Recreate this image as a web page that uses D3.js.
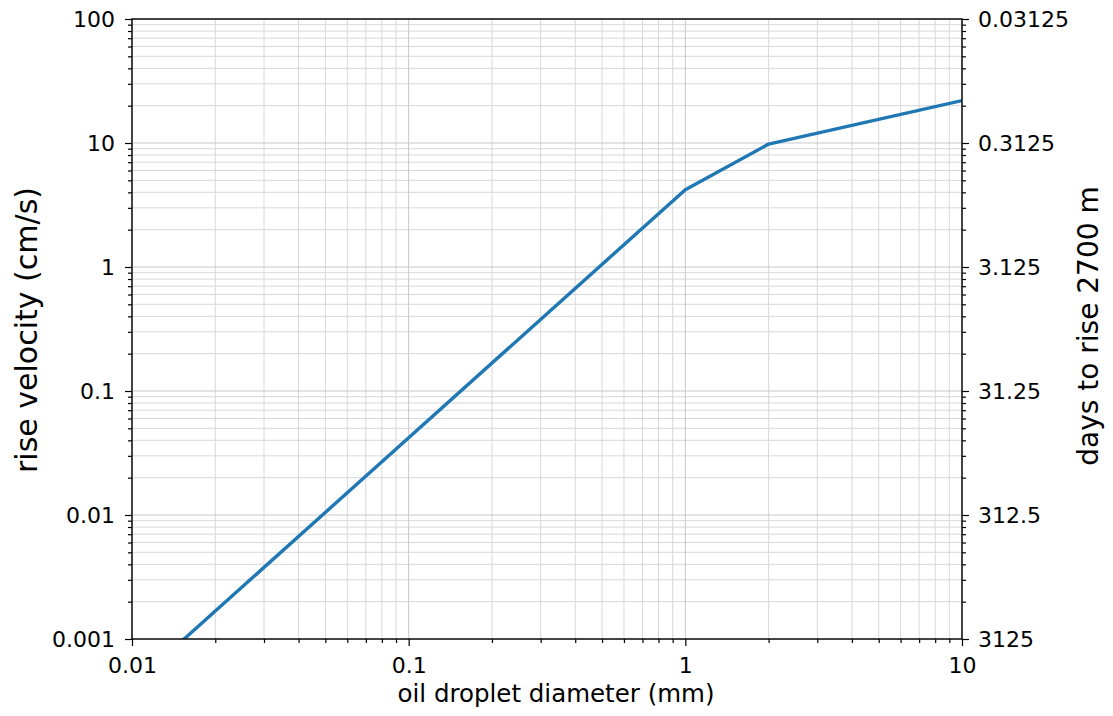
<!DOCTYPE html>
<html><head><meta charset="utf-8">
<script src="https://cdn.jsdelivr.net/npm/d3@7"></script>
<style>
html,body{margin:0;padding:0;background:#fff;}
svg{display:block;font-family:"DejaVu Sans",sans-serif;}
</style></head>
<body><svg id="c" width="1113" height="716"></svg>
<script>
// data
const diameters = [0.01, 0.1, 1, 2, 10];          // mm
const velocities = [0.00042, 0.042, 4.2, 9.8, 22]; // cm/s
const xTickLabels = ["0.01", "0.1", "1", "10"];
const yTickLabels = ["0.001", "0.01", "0.1", "1", "10", "100"];
const rightTickLabels = ["3125", "312.5", "31.25", "3.125", "0.3125", "0.03125"];
const xLabel = "oil droplet diameter (mm)";
const yLabel = "rise velocity (cm/s)";
const y2Label = "days to rise 2700 m";

const L = 132, R = 962, T = 19, B = 639;
const svg = d3.select("#c");
const x = d3.scaleLog().domain([0.01, 10]).range([L, R]);
const y = d3.scaleLog().domain([0.001, 100]).range([B, T]);
const y2 = d3.scaleLog().domain([3125, 0.03125]).range([B, T]);

const xMajor = [0.01, 0.1, 1, 10];
const yMajor = [0.001, 0.01, 0.1, 1, 10, 100];
const minorOf = (majors) => {
  const out = [];
  majors.slice(0, -1).forEach(m => { for (let k = 2; k <= 9; k++) out.push(m * k); });
  return out;
};
const xMinor = minorOf(xMajor), yMinor = minorOf(yMajor);

// grid
const g = svg.append("g");
g.selectAll(".gxm").data(xMinor).join("line")
  .attr("x1", d => x(d)).attr("x2", d => x(d)).attr("y1", T).attr("y2", B)
  .attr("stroke", "#d8d8d8").attr("stroke-width", 1);
g.selectAll(".gym").data(yMinor).join("line")
  .attr("y1", d => y(d)).attr("y2", d => y(d)).attr("x1", L).attr("x2", R)
  .attr("stroke", "#d8d8d8").attr("stroke-width", 1);
g.selectAll(".gxM").data(xMajor).join("line")
  .attr("x1", d => x(d)).attr("x2", d => x(d)).attr("y1", T).attr("y2", B)
  .attr("stroke", "#c8c8c8").attr("stroke-width", 1);
g.selectAll(".gyM").data(yMajor).join("line")
  .attr("y1", d => y(d)).attr("y2", d => y(d)).attr("x1", L).attr("x2", R)
  .attr("stroke", "#c8c8c8").attr("stroke-width", 1);

// line
svg.append("clipPath").attr("id", "clip").append("rect")
  .attr("x", L).attr("y", T).attr("width", R - L).attr("height", B - T);
const pts = diameters.map((d, i) => [d, velocities[i]]);
svg.append("path").datum(pts)
  .attr("clip-path", "url(#clip)")
  .attr("d", d3.line().x(d => x(d[0])).y(d => y(d[1])))
  .attr("fill", "none").attr("stroke", "#1f77b4").attr("stroke-width", 3.4)
  .attr("stroke-linejoin", "round");

// axes
function styleAxis(sel) {
  sel.selectAll("path").remove();
  sel.selectAll("line").attr("stroke", "#000").attr("stroke-width", 1.2);
  sel.selectAll("text").attr("fill", "#000").style("font-size", "22px").style("font-family", "DejaVu Sans");
}
const fmt = (labels, majors) => d => { const i = majors.findIndex(m => Math.abs(m - d) / m < 1e-6); return i >= 0 ? labels[i] : ""; };

svg.append("g").attr("transform", `translate(0,${B})`)
  .call(d3.axisBottom(x).tickValues(xMinor).tickSize(4).tickFormat(""))
  .call(styleAxis);
svg.append("g").attr("transform", `translate(0,${B})`)
  .call(d3.axisBottom(x).tickValues(xMajor).tickSize(7).tickPadding(11).tickFormat(fmt(xTickLabels, xMajor)))
  .call(styleAxis);
svg.append("g").attr("transform", `translate(${L},0)`)
  .call(d3.axisLeft(y).tickValues(yMinor).tickSize(4).tickFormat(""))
  .call(styleAxis);
svg.append("g").attr("transform", `translate(${L},0)`)
  .call(d3.axisLeft(y).tickValues(yMajor).tickSize(7).tickPadding(10).tickFormat(fmt(yTickLabels, yMajor)))
  .call(styleAxis);

const r2Major = yMajor.map(v => 3.125 / v);
const r2Minor = yMinor.map(v => 3.125 / v);
svg.append("g").attr("transform", `translate(${R},0)`)
  .call(d3.axisRight(y2).tickValues(r2Minor).tickSize(4).tickFormat(""))
  .call(styleAxis);
svg.append("g").attr("transform", `translate(${R},0)`)
  .call(d3.axisRight(y2).tickValues(r2Major).tickSize(7).tickPadding(9).tickFormat(fmt(rightTickLabels, r2Major)))
  .call(styleAxis);

// frame
svg.append("rect").attr("x", L).attr("y", T).attr("width", R - L).attr("height", B - T)
  .attr("fill", "none").attr("stroke", "#000").attr("stroke-width", 1.4);

// labels
svg.append("text").attr("x", 556).attr("y", 702).attr("text-anchor", "middle")
  .style("font-size", "24.5px").text(xLabel);
svg.append("text").attr("transform", `translate(37,330) rotate(-90)`).attr("text-anchor", "middle")
  .style("font-size", "30px").text(yLabel);
svg.append("text").attr("transform", `translate(1098,326) rotate(-90)`).attr("text-anchor", "middle")
  .style("font-size", "28px").text(y2Label);
</script></body></html>
